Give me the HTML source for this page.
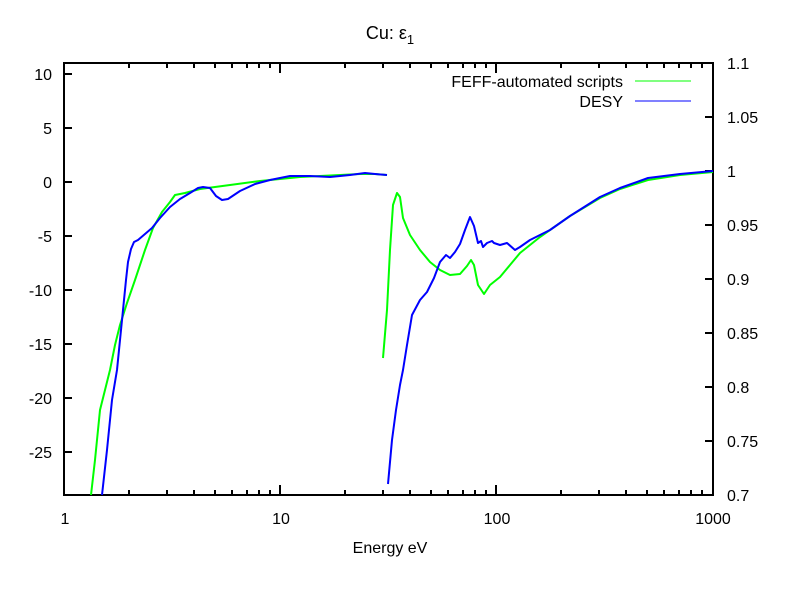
<!DOCTYPE html>
<html><head><meta charset="utf-8"><style>
body{margin:0;background:#fff}
svg text{font-family:"Liberation Sans",sans-serif;font-size:16px;fill:#000}
</style></head><body>
<svg width="800" height="600" xmlns="http://www.w3.org/2000/svg">
<rect width="800" height="600" fill="#fff"/>
<g stroke="#000" stroke-width="2" fill="none">
<rect x="64" y="63" width="649" height="432"/>
<path d="M64 74h8M64 128h8M64 182h8M64 236h8M64 290h8M64 344h8M64 398h8M64 452h8"/>
<path d="M713 117h-8M713 171h-8M713 225h-8M713 279h-8M713 333h-8M713 387h-8M713 441h-8"/>
<path id="dec" d="M64 495v-10M129 495v-5M167 495v-5M194 495v-5M215 495v-5M232 495v-5M247 495v-5M259 495v-5M270 495v-5M64 63v10M129 63v5M167 63v5M194 63v5M215 63v5M232 63v5M247 63v5M259 63v5M270 63v5"/>
<use href="#dec" x="216"/><use href="#dec" x="432"/>
<path d="M713 495v-10M713 63v10"/>
</g>
<g text-anchor="end">
<text x="52" y="80">10</text><text x="52" y="134">5</text><text x="52" y="188">0</text>
<text x="52" y="242">-5</text><text x="52" y="296">-10</text><text x="52" y="350">-15</text>
<text x="52" y="404">-20</text><text x="52" y="458">-25</text>
</g>
<g>
<text x="727" y="69">1.1</text><text x="727" y="123">1.05</text><text x="727" y="177">1</text>
<text x="727" y="231">0.95</text><text x="727" y="285">0.9</text><text x="727" y="339">0.85</text>
<text x="727" y="393">0.8</text><text x="727" y="447">0.75</text><text x="727" y="501">0.7</text>
</g>
<g text-anchor="middle">
<text x="65" y="524">1</text><text x="281" y="524">10</text><text x="497" y="524">100</text><text x="713" y="524">1000</text>
<text x="390" y="553">Energy eV</text>
<text x="390" y="39" style="font-size:18px">Cu: ε<tspan style="font-size:13px" dy="5">1</tspan></text>
</g>
<g text-anchor="end">
<text x="623" y="87">FEFF-automated scripts</text>
<text x="623" y="107">DESY</text>
</g>
<path d="M635 81h56" stroke="#0f0" stroke-width="1"/>
<path d="M635 101h56" stroke="#00f" stroke-width="1"/>
<g fill="none" stroke-width="2" stroke-linejoin="round">
<polyline stroke="#0f0" points="91,495 95,460 100,410 105,390 110,370 115,345 120,325 127,303 135,280 145,250 153,228 162,212 170,202 175,195 185,193 200,189 230,185 260,181 280,179 300,177 320,176 340,175 360,174 375,174 387,175"/>
<polyline stroke="#0f0" points="383,358 387,310 390,250 393,205 397,193 400,197 403,218 410,235 420,250 430,262 440,270 450,275 460,274 467,266 471,260 474,265 478,285 484,294 490,285 500,277 510,265 520,253 540,237 570,216 600,198 620,189 648,180 680,175 713,172"/>
<polyline stroke="#00f" points="102,495 107,450 112,400 117,370 120,340 123,310 126,280 128,262 131,249 134,242 138,240 145,234 152,228 160,218 170,207 180,199 190,193 198,188 203,187 210,188 216,196 222,200 228,199 240,191 255,184 270,180 280,178 290,176 310,176 330,177 350,175 365,173 375,174 387,175"/>
<polyline stroke="#00f" points="388,484 392,440 396,410 400,385 403,370 407,345 412,315 420,300 427,292 434,278 440,262 446,255 450,258 455,252 460,244 465,230 470,217 474,226 478,243 481,241 483,247 487,243 492,241 494,243 500,245 507,243 515,250 520,247 530,240 550,230 570,216 600,197 620,188 648,178 680,174 713,171"/>
</g>
</svg>
</body></html>
